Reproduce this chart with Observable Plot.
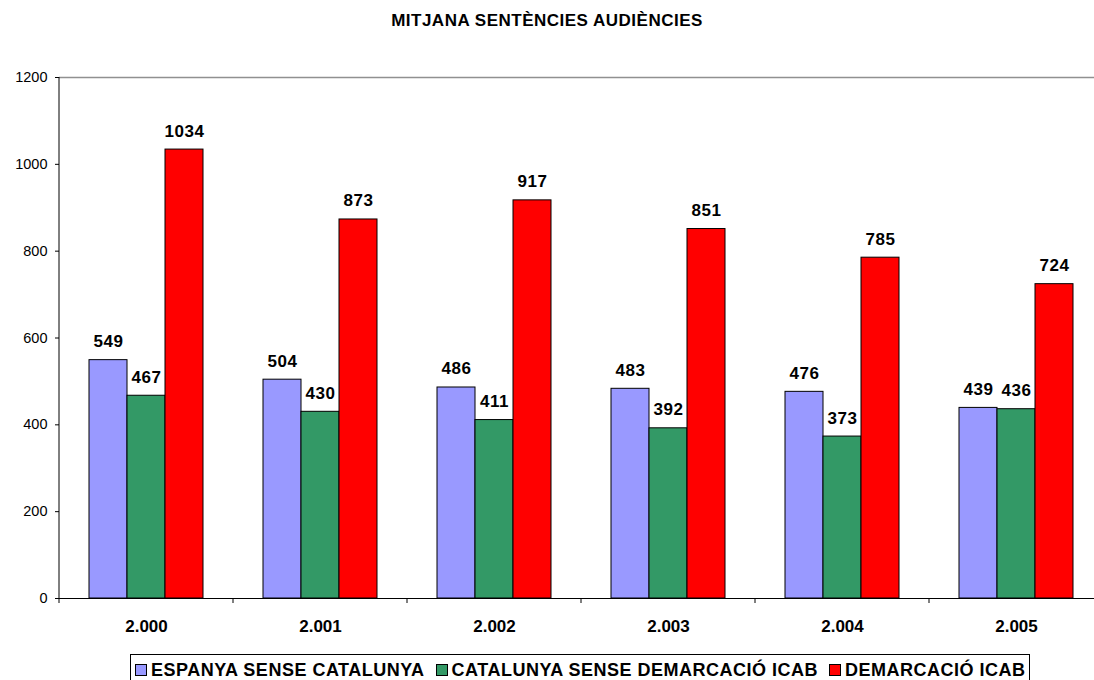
<!DOCTYPE html>
<html>
<head>
<meta charset="utf-8">
<script src="https://cdn.jsdelivr.net/npm/d3@7"></script>
<script src="https://cdn.jsdelivr.net/npm/@observablehq/plot@0.6"></script>
<style>
  html, body { margin: 0; padding: 0; background: #fff; overflow: hidden; width: 1094px; height: 680px; }
  #wrap { position: relative; width: 1094px; height: 680px; font-family: "Liberation Sans", Arial, sans-serif; overflow: hidden; }
  #title { position: absolute; left: 0; top: 0; width: 1094px; height: 42px; line-height: 42px; text-align: center;
           font-weight: bold; font-size: 17px; letter-spacing: 0.5px; color: #000; }
  #chart { position: absolute; left: 0; top: 40px; width: 1110px; }
  #chart svg { max-width: none !important; }
  #legend { position: absolute; left: 130px; top: 654px; width: 900px; height: 32px; border: 1px solid #000; box-sizing: border-box;
            display: flex; align-items: flex-start; padding-top: 8px; padding-left: 4px; }
  .item { display: flex; align-items: center; margin-right: 11px; }
  .sw { width: 12px; height: 12px; border: 1px solid #000; box-sizing: border-box; margin-right: 4px; }
  .lab { font-weight: bold; font-size: 18px; letter-spacing: 0.5px; line-height: 14px; color: #000; white-space: nowrap; }
  g[aria-label="text"] text { letter-spacing: 0.6px; }
</style>
</head>
<body>
<div id="wrap">
  <div id="title">MITJANA SENTÈNCIES AUDIÈNCIES</div>
  <div id="chart"></div>
  <div id="legend"></div>
</div>
<script>
const years = ["2.000", "2.001", "2.002", "2.003", "2.004", "2.005"];
const series = ["ESPANYA SENSE CATALUNYA", "CATALUNYA SENSE DEMARCACIÓ ICAB", "DEMARCACIÓ ICAB"];
const colors = ["#9999FF", "#339966", "#FF0000"];
const espanya = [549, 504, 486, 483, 476, 439];
const catalunya = [467, 430, 411, 392, 373, 436];
const icab = [1034, 873, 917, 851, 785, 724];
const yTicks = [0, 200, 400, 600, 800, 1000, 1200];

const seriesValues = [espanya, catalunya, icab];
const data = years.flatMap((yr, i) => series.map((s, j) => ({year: yr, series: s, value: seriesValues[j][i]})));

const chart = Plot.plot({
  width: 1110,
  height: 610,
  marginLeft: 56,
  marginRight: 5,
  marginTop: 37,
  marginBottom: 52,
  style: {fontFamily: "'Liberation Sans', Arial, sans-serif", background: "white", color: "black", overflow: "visible", maxWidth: "none"},
  fx: {domain: years, padding: 0, label: null, axis: null},
  x: {domain: series, paddingInner: 0, paddingOuter: 0.758, axis: null},
  y: {domain: [0, 1200], label: null, axis: null},
  color: {domain: series, range: colors},
  marks: [
    Plot.axisY({ticks: yTicks, tickFormat: d => String(d), tickSize: 4, tickPadding: 8, fontSize: 14.5, label: null, anchor: "left", stroke: "black"}),
    Plot.axisFx({tickSize: 0, tickPadding: 21, fontSize: 17, fontWeight: "bold", label: null, anchor: "bottom"}),
    Plot.barY(data, {fx: "year", x: "series", y: "value", fill: "series", stroke: "black", strokeWidth: 1}),
    Plot.text(data, {fx: "year", x: "series", y: "value", text: d => String(d.value), dy: -13, lineAnchor: "bottom",
                     fontWeight: "bold", fontSize: 17, fill: "black"}),
    Plot.ruleY([1200], {stroke: "#909090", strokeWidth: 1.5}),
    Plot.ruleY([0], {stroke: "black", strokeWidth: 1})
  ]
});

chart.style.maxWidth = "none";
document.getElementById("chart").appendChild(chart);

// y-axis line and category boundary ticks, placed through the chart's own scales
const fx = chart.scale("fx");
const y = chart.scale("y");
const svg = d3.select(chart);
const x0 = fx.apply(years[0]);
svg.append("line")
  .attr("x1", x0).attr("x2", x0)
  .attr("y1", y.apply(0)).attr("y2", y.apply(1200))
  .attr("stroke", "black").attr("stroke-width", 1);
svg.append("g").selectAll("line")
  .data(years)
  .join("line")
  .attr("x1", d => fx.apply(d)).attr("x2", d => fx.apply(d))
  .attr("y1", y.apply(0)).attr("y2", y.apply(0) + 5)
  .attr("stroke", "black").attr("stroke-width", 1);

// legend
const legend = d3.select("#legend");
series.forEach((s, i) => {
  const it = legend.append("div").attr("class", "item");
  it.append("div").attr("class", "sw").style("background", colors[i]);
  it.append("div").attr("class", "lab").text(s);
});
</script>
</body>
</html>
